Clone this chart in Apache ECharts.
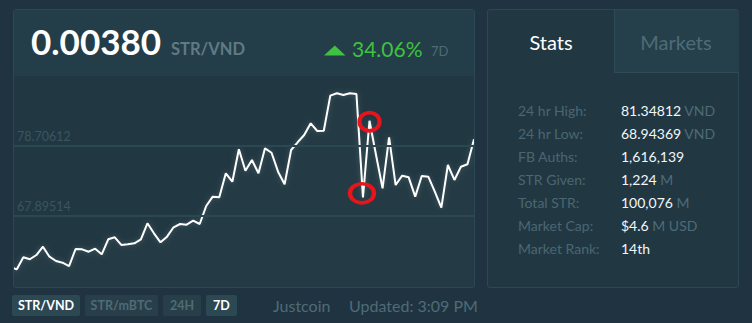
<!DOCTYPE html>
<html>
<head>
<meta charset="utf-8">
<script src="https://cdn.jsdelivr.net/npm/echarts@6/dist/echarts.min.js"></script>
<style>
  html, body { margin:0; padding:0; }
  body { width:752px; height:323px; background:#1f3440; position:relative; overflow:hidden; font-family: Lato, "Open Sans", sans-serif; }
  .abs { position:absolute; white-space:nowrap; }
  #panelL { left:13px; top:9px; width:460px; height:277px; border:1px solid #2c4854; border-radius:3px; background:#213843; }
  #header { left:14px; top:10px; width:460px; height:66px; background:#243e49; }
  #chart { left:14px; top:76px; width:460px; height:211px; }
  #panelR { left:487px; top:9px; width:250px; height:277px; border:1px solid #2c4854; border-radius:3px; background:#213843; }
  #tabM { left:614px; top:10px; width:124px; height:62px; background:#25404b; border-left:1px solid #2e4b57; border-bottom:1px solid #2e4b57; }
  .lbl { color:#4b6671; font-size:14px; line-height:14px; }
  .val { color:#f2f6f7; font-size:14px; line-height:14px; }
  .unit { color:#4f6b76; }
  .btn { top:295px; height:21px; border-radius:2px; font-size:12.5px; font-weight:bold; line-height:21px; text-align:center; }
</style>
</head>
<body>
<div class="abs" id="panelL"></div>
<div class="abs" id="header"></div>
<div class="abs" id="chart"></div>
<div class="abs" style="left:31px;top:24px;font-size:35px;line-height:35px;font-weight:bold;color:#ffffff;">0.00380</div>
<div class="abs" style="left:171px;top:40.5px;font-size:16.5px;line-height:16.5px;font-weight:bold;color:#5f7a85;">STR/VND</div>
<svg class="abs" style="left:0;top:0" width="752" height="80"><polygon points="324,55.5 345.5,55.5 334.8,45.5" fill="#3fc23f"/></svg>
<div class="abs" style="left:352px;top:37.5px;font-size:21px;line-height:21px;color:#3fc23f;">34.06%</div>
<div class="abs" style="left:431px;top:44.5px;font-size:13px;line-height:13px;color:#4f6b76;">7D</div>

<div class="abs" id="panelR"></div>
<div class="abs" id="tabM"></div>
<div class="abs" style="left:488px;width:126px;top:32.3px;font-size:20px;line-height:20px;color:#ffffff;text-align:center;">Stats</div>
<div class="abs" style="left:614px;width:124px;top:32.3px;font-size:20px;line-height:20px;color:#4f6b76;text-align:center;">Markets</div>
<div id="stats"></div>

<div class="abs btn" style="left:12px;width:68px;background:#2b4853;color:#ffffff;">STR/VND</div>
<div class="abs btn" style="left:85px;width:73px;background:#283f4a;color:#4f6b76;">STR/mBTC</div>
<div class="abs btn" style="left:163px;width:38px;background:#283f4a;color:#4f6b76;">24H</div>
<div class="abs btn" style="left:206px;width:31px;background:#2b4853;color:#ffffff;">7D</div>
<div class="abs" style="left:273px;top:297.5px;font-size:16px;line-height:16px;color:#4f6b76;">Justcoin</div>
<div class="abs" style="left:349px;top:297.5px;font-size:16px;line-height:16px;color:#4f6b76;">Updated: 3:09 PM</div>

<script>
// ---- data ----
const priceValues = [
  60.02, 59.66, 61.52, 61.21, 61.87, 63.15, 61.61, 60.95, 60.68, 60.17,
  62.80, 62.75, 62.38, 62.85, 61.98, 64.30, 64.61, 63.42, 63.52, 63.68,
  64.30, 66.77, 65.22, 63.83, 64.70, 66.15, 66.66, 66.55, 67.17, 66.66,
  69.44, 70.88, 70.78, 74.49, 73.19, 78.20, 74.89, 76.54, 74.49, 78.35,
  77.67, 74.74, 72.79, 78.09, 79.28, 80.41, 82.21, 81.02, 81.07, 86.48,
  86.85, 86.58, 86.85, 86.74, 70.78, 82.61, 77.32, 72.17, 80.05, 72.68,
  74.12, 73.87, 70.88, 74.07, 73.97, 71.65, 69.18, 75.77, 73.46, 75.51,
  75.88, 79.74
];
const guideValues = [78.70612, 67.89514];
const guideLabels = ['78.70612', '67.89514'];
const circledIndexes = [54, 55];
const statLabels = ['24 hr High:', '24 hr Low:', 'FB Auths:', 'STR Given:', 'Total STR:', 'Market Cap:', 'Market Rank:'];
const statValues = ['81.34812', '68.94369', '1,616,139', '1,224', '100,076', '$4.6', '14th'];
const statUnits  = ['VND', 'VND', '', 'M', 'M', 'M USD', ''];

// ---- stats panel ----
const statsEl = document.getElementById('stats');
statLabels.forEach((l, i) => {
  const top = 116 - 12.4 + i * 23;
  const a = document.createElement('div');
  a.className = 'abs lbl'; a.style.left = '518px'; a.style.top = top + 'px'; a.textContent = l;
  const b = document.createElement('div');
  b.className = 'abs val'; b.style.left = '621px'; b.style.top = top + 'px';
  b.innerHTML = statValues[i] + (statUnits[i] ? ' <span class="unit">' + statUnits[i] + '</span>' : '');
  statsEl.appendChild(a); statsEl.appendChild(b);
});

// ---- chart ----
const chart = echarts.init(document.getElementById('chart'), null, { renderer: 'svg' });
const lineData = priceValues.map((v, i) => [i, v]);
chart.setOption({
  animation: false,
  grid: { left: 0, right: 0, top: 0, bottom: 0 },
  xAxis: { type: 'value', min: 0.57, max: priceValues.length - 1, show: false },
  yAxis: { type: 'value', min: 56.93, max: 89.517, show: false },
  series: [
    {
      type: 'line', data: [], z: 1, silent: true,
      markLine: {
        silent: true, symbol: 'none',
        lineStyle: { color: '#2b4752', width: 2, type: 'solid' },
        label: {
          position: 'insideStartTop', color: '#3a5560', fontSize: 12.5,
          fontFamily: 'Lato, sans-serif', distance: [3, 3],
          formatter: p => guideLabels[p.dataIndex]
        },
        data: guideValues.map(v => ({ yAxis: v }))
      }
    },
    {
      type: 'line', data: lineData, z: 3, showSymbol: false, silent: true,
      lineStyle: { color: '#ffffff', width: 2, shadowColor: 'rgba(255,255,255,0.18)', shadowBlur: 5 },
      areaStyle: { color: 'rgba(255,255,255,0.025)' },
      markPoint: {
        silent: true,
        symbol: 'circle',
        label: { show: false },
        itemStyle: { color: 'rgba(0,0,0,0)', borderColor: '#e8141b', borderWidth: 4 },
        data: circledIndexes.map((i, k) => ({
          coord: [i, priceValues[i]],
          symbolSize: k === 0 ? [24, 19] : [20, 18],
          symbolOffset: k === 0 ? [-1, -4] : [0, 1]
        }))
      }
    }
  ]
});
</script>
</body>
</html>
